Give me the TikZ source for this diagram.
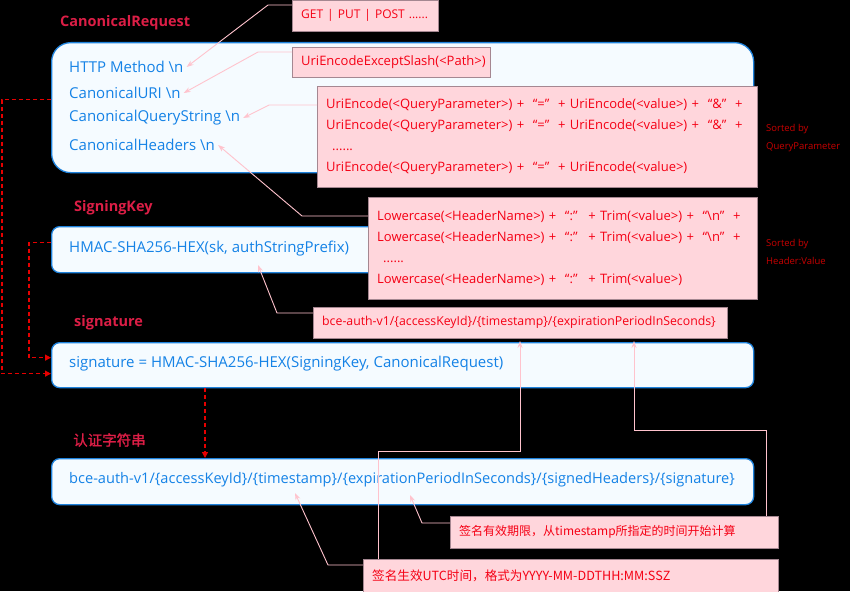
\documentclass[tikz,border=0pt]{standalone}
\usepackage{fontspec}
\setmainfont{Open Sans}
\newfontfamily\cjk{Noto Sans CJK SC}
\newfontfamily\cjkbold[FakeBold=1.5]{Noto Sans CJK SC}
\usetikzlibrary{arrows.meta, positioning}
\definecolor{boxblue}{RGB}{30,130,220}
\definecolor{boxfill}{RGB}{245,251,255}
\definecolor{txtblue}{RGB}{20,130,230}
\definecolor{labred}{RGB}{220,30,70}
\definecolor{notefill}{RGB}{255,214,220}
\definecolor{noteborder}{RGB}{165,135,145}
\definecolor{notered}{RGB}{245,0,20}
\definecolor{sidered}{RGB}{200,0,0}
\definecolor{hintpink}{RGB}{255,195,205}
\definecolor{flowred}{RGB}{230,0,0}

\begin{document}
\begin{tikzpicture}[
    x=1pt, y=-1pt,
    bluebox/.style={draw=boxblue, fill=boxfill, line width=1.3pt, rounded corners=8pt, minimum width=702pt, minimum height=46pt, anchor=north west, inner sep=0pt},
    bluetxt/.style={text=txtblue, font=\fontsize{15}{17}\selectfont, anchor=west, inner sep=3pt},
    title/.style={text=labred, font=\bfseries\fontsize{14.5}{16}\selectfont, anchor=west, inner sep=0pt},
    note/.style={draw=noteborder, fill=notefill, text=notered, font=\fontsize{13}{21}\selectfont, anchor=north west, align=left, inner xsep=9pt, inner ysep=0pt},
    side/.style={text=sidered, font=\fontsize{9.5}{18}\selectfont, anchor=west, align=left, inner sep=0pt},
    hint/.style={draw=hintpink, line width=0.9pt, -{Stealth[length=7pt, width=5pt]}},
    flow/.style={draw=flowred, line width=1.2pt, dash pattern=on 4pt off 3pt, -{Triangle[length=6pt, width=6pt]}}
  ]
    \useasboundingbox[fill=black] (0,0) rectangle (850,591);

    % CanonicalRequest
    \node[title] (crlabel) at (60,23) {CanonicalRequest};
    \node[bluebox, rounded corners=19pt, minimum height=130pt] (crbox) at (51,42) {};
    \node[bluetxt] (http) at (66,67) {HTTP Method \textbackslash n};
    \node[bluetxt] (curi) at (66,93) {CanonicalURI \textbackslash n};
    \node[bluetxt] (cqs) at (66,118) {CanonicalQueryString \textbackslash n};
    \node[bluetxt] (chead) at (66,145) {CanonicalHeaders \textbackslash n};

    % SigningKey
    \node[title] (sklabel) at (74,208) {SigningKey};
    \node[bluebox] (skbox) at (51,226) {};
    \node[bluetxt] (sktxt) at (66,249) {HMAC-SHA256-HEX(sk, authStringPrefix)};

    % signature
    \node[title] (siglabel) at (74,323) {signature};
    \node[bluebox, minimum height=45pt] (sigbox) at (51,342) {};
    \node[bluetxt] (sigtxt) at (66,364) {signature = HMAC-SHA256-HEX(SigningKey, CanonicalRequest)};

    % auth string
    \node[title, font=\cjkbold\fontsize{14.5}{16}\selectfont] (authlabel) at (73,440) {认证字符串};
    \node[bluebox] (auth) at (51,458) {};
    \node[bluetxt, font=\fontsize{14.6}{17}\selectfont] (authtxt) at (66,480) {bce-auth-v1/\{accessKeyId\}/\{timestamp\}/\{expirationPeriodInSeconds\}/\{signedHeaders\}/\{signature\}};

    % Notes
    \node[note, text width=128pt, minimum height=31pt, font=\fontsize{12}{21}\selectfont] (get) at (292,0) {GET | PUT | POST ......};
    \node[note, text width=180pt, minimum height=30pt] (uri) at (292,47) {UriEncodeExceptSlash(<Path>)};
    \node[note, text width=422pt, minimum height=101pt] (qbox) at (317,86) {UriEncode(<QueryParameter>) + ~“=”~ + UriEncode(<value>) + ~“\&”~ +\\UriEncode(<QueryParameter>) + ~“=”~ + UriEncode(<value>) + ~“\&”~ +\\\hspace{6pt}......\\UriEncode(<QueryParameter>) + ~“=”~ + UriEncode(<value>)};
    \node[note, text width=371pt, minimum height=102pt] (hbox) at (368,197) {Lowercase(<HeaderName>) + ~“:”~ + Trim(<value>) + ~“\textbackslash n”~ +\\Lowercase(<HeaderName>) + ~“:”~ + Trim(<value>) + ~“\textbackslash n”~ +\\\hspace{6pt}......\\Lowercase(<HeaderName>) + ~“:”~ + Trim(<value>)};
    \node[note, text width=396pt, minimum height=31pt, font=\fontsize{12.3}{21}\selectfont] (prefix) at (313,307) {bce-auth-v1/\{accessKeyId\}/\{timestamp\}/\{expirationPeriodInSeconds\}};
    \node[note, text width=310pt, minimum height=32pt, font=\cjk\fontsize{12}{21}\selectfont] (valid) at (450,516) {签名有效期限，从timestamp所指定的时间开始计算};
    \node[note, text width=397pt, minimum height=34pt, font=\cjk\fontsize{12.6}{21}\selectfont] (utc) at (363,559) {签名生效UTC时间，格式为YYYY-MM-DDTHH:MM:SSZ};

    \node[side] (qsort) at (766,138) {Sorted by\\QueryParameter};
    \node[side] (hsort) at (766,252) {Sorted by\\Header:Value};

    % Hint arrows
    \coordinate (skin) at (258,265);
    \coordinate (tsin) at (295,493);
    \coordinate (expin) at (410,495);
    \coordinate (tsup) at (520,341);
    \coordinate (expup) at (634,341);
    \draw[hint] ([yshift=-5pt]get.north west) -- ++(-24,0) -- (http.east);
    \draw[hint] ([yshift=-5pt]uri.north west) -- ++(-34,0) -- (curi.east);
    \draw[hint] ([yshift=-19pt]qbox.north west) -- ++(-48,0) -- (cqs.east);
    \draw[hint] ([yshift=-19pt]hbox.north west) -- ++(-66,0) -- (chead.east);
    \draw[hint] ([yshift=-6pt]prefix.north west) -- ++(-36,0) -- (skin);
    \draw[hint] ([yshift=-7pt]valid.north west) -- ++(-28,0) -- (expin);
    \draw[hint] ([yshift=-6pt]utc.north west) -- ++(-35,0) -- (tsin);
    \draw[hint] ([xshift=15pt]utc.north west) -- ++(0,-108) -| (tsup);
    \draw[hint] ([xshift=316pt]valid.north west) -- ++(0,-86) -| (expup);

    % Flow
    \draw[flow] ([yshift=8pt]crbox.west) -- ++(-49,0) |- ([yshift=-8.5pt]sigbox.west);
    \draw[flow] ([yshift=7pt]skbox.west) -- ++(-22,0) |- ([yshift=7.5pt]sigbox.west);
    \draw[flow] ([xshift=154pt]sigbox.south west) -- ([xshift=154pt]auth.north west);
  \end{tikzpicture}
\end{document}
